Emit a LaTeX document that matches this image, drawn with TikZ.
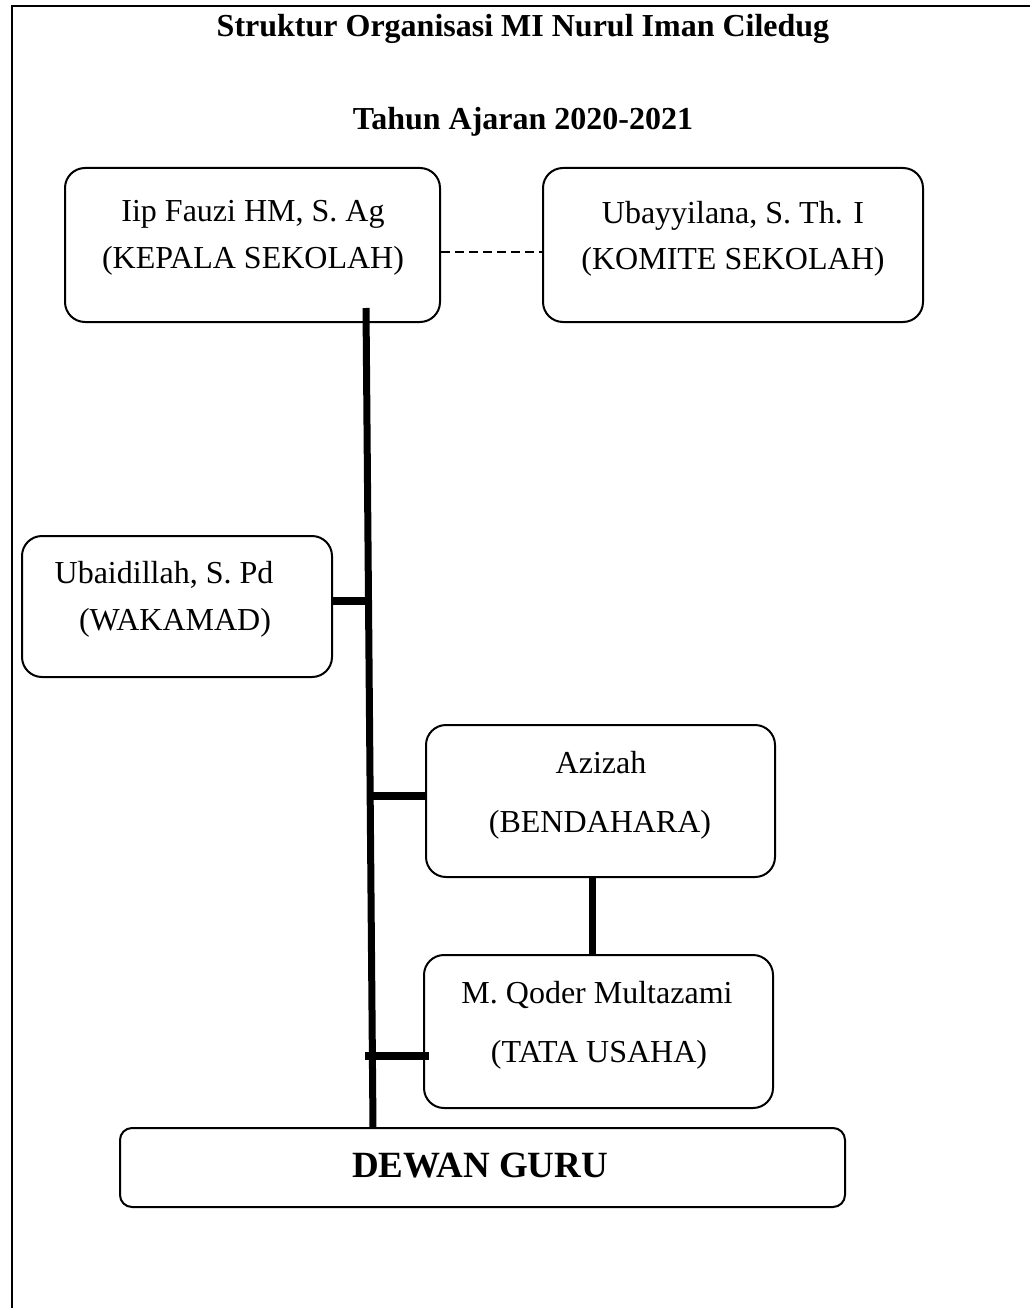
\documentclass[tikz,border=0pt]{standalone}
\usepackage{fontspec}
\setmainfont{Liberation Serif}
\begin{document}
\begin{tikzpicture}[x=1pt,y=-1pt,
  box/.style={draw, line width=2pt, rounded corners=20pt, inner sep=0pt},
  txt/.style={inner sep=0pt, anchor=base, font=\fontsize{32}{38}\selectfont},
  ttl/.style={inner sep=0pt, anchor=base, font=\fontsize{32}{38}\selectfont\bfseries},
  trunk/.style={line width=7pt},
  bar/.style={line width=7.5pt},
  dashline/.style={line width=1.5pt, dash pattern=on 9pt off 5pt},
]
\useasboundingbox (0,0) rectangle (1029,1308);
% outer frame (top and left edges visible)
\draw[line width=2pt] (1040,6) -- (12,6) -- (12,1320);

% titles
\node[ttl] (t1) at (523,37) {Struktur Organisasi MI Nurul Iman Ciledug};
\node[ttl] (t2) at (523,130) {Tahun Ajaran 2020-2021};

% boxes
\node[box, minimum width=375pt, minimum height=154pt] (kepala) at (252.5,245) {};
\node[box, minimum width=380pt, minimum height=154pt] (komite) at (733,245) {};
\node[box, minimum width=310pt, minimum height=141pt] (wakamad) at (177,606.5) {};
\node[box, minimum width=349pt, minimum height=152pt] (bend) at (600.5,801) {};
\node[box, minimum width=349pt, minimum height=153pt] (tata) at (598.5,1031.5) {};
\node[box, rounded corners=12pt, minimum width=725pt, minimum height=79pt] (dewan) at (482.5,1167.5) {};

% texts
\node[txt] (k1) at (253,222) {Iip Fauzi HM, S. Ag};
\node[txt] (k2) at (253,268) {(KEPALA SEKOLAH)};
\node[txt] (m1) at (733,223) {Ubayyilana, S. Th. I};
\node[txt] (m2) at (733,269) {(KOMITE SEKOLAH)};
\node[txt] (w1) at (164,583) {Ubaidillah, S. Pd};
\node[txt] (w2) at (175,630) {(WAKAMAD)};
\node[txt] (b1) at (601,773) {Azizah};
\node[txt] (b2) at (600,832) {(BENDAHARA)};
\node[txt] (u1) at (597,1003) {M. Qoder Multazami};
\node[txt] (u2) at (599,1062) {(TATA USAHA)};
\node[ttl, font=\fontsize{37}{44}\selectfont\bfseries] (g) at (480,1177) {DEWAN GURU};

% connectors
\draw[dashline] ([yshift=-7pt]kepala.east) -- ([yshift=-7pt]kepala.east -| komite.west);
\coordinate (ttop) at (366,308);
\coordinate (tbot) at (373,1128);
\draw[trunk] (ttop) -- (tbot);
\draw[bar] ([yshift=5.5pt]wakamad.east) -- ++(38,0);
\draw[bar] ([yshift=5pt]bend.west) -- ++(-55,0);
\draw[bar] ([xshift=6pt,yshift=-24.5pt]tata.west) -- ++(-64,0);
\draw[trunk] ([xshift=-8.5pt]bend.south) -- ([xshift=-8.5pt]bend.south |- tata.north);
\end{tikzpicture}
\end{document}
